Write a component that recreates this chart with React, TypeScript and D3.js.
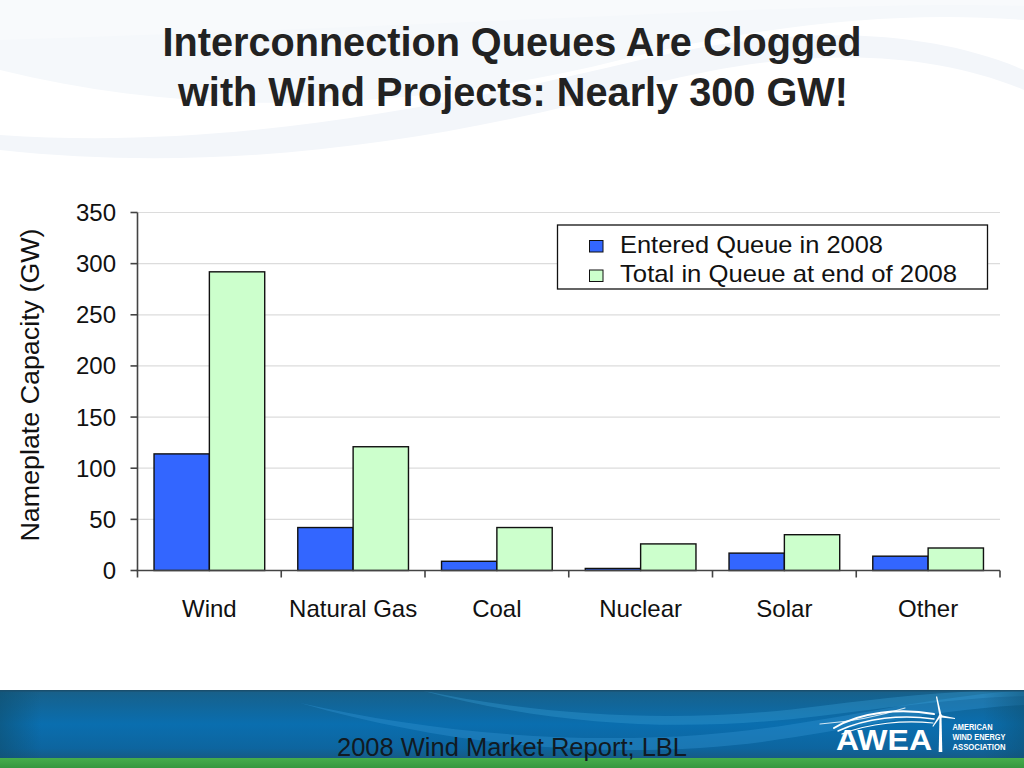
import React from "react";
import * as d3 from "d3";

const categories = ["Wind", "Natural Gas", "Coal", "Nuclear", "Solar", "Other"];
const seriesNames = ["Entered Queue in 2008", "Total in Queue at end of 2008"];
const enteredQueue = [114, 42, 9, 2, 17, 14];
const totalInQueue = [292, 121, 42, 26, 35, 22];
const yTicks = [0, 50, 100, 150, 200, 250, 300, 350];
const seriesColors = ["#3366ff", "#ccffcc"];

const W = 1024;
const H = 768;
const FONT = "'Liberation Sans', Arial, Helvetica, sans-serif";

export default function App() {
  const left = 137.5;
  const right = 1000;
  const top = 212.5;
  const bottom = 570.5;

  const x = d3
    .scaleBand<string>()
    .domain(categories)
    .range([left, right])
    .paddingInner(0.23)
    .paddingOuter(0.115);
  const xs = d3.scaleBand<string>().domain(seriesNames).range([0, x.bandwidth()]).padding(0);
  const y = d3.scaleLinear().domain([0, 350]).range([bottom, top]);
  const step = x.step();
  const series = [enteredQueue, totalInQueue];
  const legendLengths = [263, 337];

  const boundaries = d3.range(categories.length + 1).map((i) => left + i * step);

  return (
    <svg
      width={W}
      height={H}
      viewBox={`0 0 ${W} ${H}`}
      style={{ position: "absolute", left: 0, top: 0, display: "block" }}
      fontFamily={FONT}
    >
      <defs>
        <linearGradient id="footV" x1="0" y1="0" x2="0" y2="1">
          <stop offset="0" stopColor="#1b5f86" />
          <stop offset="0.08" stopColor="#15628f" />
          <stop offset="0.5" stopColor="#0a6eaf" />
          <stop offset="0.85" stopColor="#0d659f" />
          <stop offset="1" stopColor="#175a84" />
        </linearGradient>
        <linearGradient id="footH" x1="0" y1="0" x2="1" y2="0">
          <stop offset="0" stopColor="#0e4f70" stopOpacity="0.6" />
          <stop offset="0.04" stopColor="#0e4f70" stopOpacity="0" />
          <stop offset="0.96" stopColor="#0e4f70" stopOpacity="0" />
          <stop offset="1" stopColor="#0e4f70" stopOpacity="0.5" />
        </linearGradient>
        <linearGradient id="green" x1="0" y1="0" x2="0" y2="1">
          <stop offset="0" stopColor="#46ad4c" />
          <stop offset="1" stopColor="#35973f" />
        </linearGradient>
      </defs>

      <rect x={0} y={0} width={W} height={H} fill="#ffffff" />

      {/* faint background swooshes */}
      <path d="M0,70 C200,120 420,110 620,60 C760,25 900,10 1024,20 L1024,0 L0,0 Z" fill="#f5f8fb" />
      <path d="M0,135 C220,150 430,110 640,60 C800,22 930,30 1024,70 L1024,90 C930,50 800,45 650,85 C450,140 230,175 0,150 Z" fill="#f3f6fa" />
      <path d="M0,0 L1024,0 L1024,6 C850,0 600,20 0,40 Z" fill="#f8fafc" />

      {/* Title */}
      <g fill="#222222" fontWeight="bold" fontSize={40} textAnchor="middle">
        <text x={512} y={56} textLength={699} lengthAdjust="spacingAndGlyphs">
          Interconnection Queues Are Clogged
        </text>
        <text x={513} y={106} textLength={670} lengthAdjust="spacingAndGlyphs">
          with Wind Projects: Nearly 300 GW!
        </text>
      </g>

      {/* gridlines */}
      {yTicks
        .filter((t) => t > 0)
        .map((t) => (
          <line key={"g" + t} x1={left} x2={right} y1={y(t)} y2={y(t)} stroke="#dcdcdc" strokeWidth={1.2} />
        ))}

      {/* bars */}
      {categories.map((c, i) => (
        <g key={c}>
          {series.map((vals, s) => (
            <rect
              key={s}
              x={(x(c) as number) + (xs(seriesNames[s]) as number)}
              y={y(vals[i])}
              width={xs.bandwidth()}
              height={bottom - y(vals[i])}
              fill={seriesColors[s]}
              stroke="#111111"
              strokeWidth={1.4}
            />
          ))}
        </g>
      ))}

      {/* axes */}
      <line x1={left} x2={left} y1={top} y2={bottom} stroke="#444" strokeWidth={1.6} />
      <line x1={left - 1} x2={right} y1={bottom} y2={bottom} stroke="#444" strokeWidth={1.6} />
      {yTicks.map((t) => (
        <g key={"t" + t}>
          <line x1={left - 7} x2={left} y1={y(t)} y2={y(t)} stroke="#444" strokeWidth={1.6} />
          <text x={116} y={y(t) + 8.5} textAnchor="end" fontSize={24} fill="#111">
            {t}
          </text>
        </g>
      ))}
      {boundaries.map((bx, i) => (
        <line key={"b" + i} x1={bx} x2={bx} y1={bottom} y2={bottom + 7} stroke="#444" strokeWidth={1.6} />
      ))}
      {categories.map((c) => (
        <text
          key={"l" + c}
          x={(x(c) as number) + x.bandwidth() / 2}
          y={617}
          textAnchor="middle"
          fontSize={24}
          fill="#111"
        >
          {c}
        </text>
      ))}

      {/* y axis title */}
      <text
        transform={`translate(39,385) rotate(-90)`}
        textAnchor="middle"
        fontSize={26.5}
        fill="#111"
        textLength={313}
        lengthAdjust="spacingAndGlyphs"
      >
        Nameplate Capacity (GW)
      </text>

      {/* legend */}
      <rect x={557.5} y={225} width={430} height={64} fill="#ffffff" stroke="#111" strokeWidth={1.3} />
      {seriesNames.map((n, i) => (
        <g key={n}>
          <rect
            x={589.5}
            y={240.5 + i * 29.5}
            width={13.5}
            height={11.5}
            fill={seriesColors[i]}
            stroke="#111"
            strokeWidth={1}
          />
          <text
            x={620}
            y={252.5 + i * 29.5}
            fontSize={24}
            fill="#111"
            textLength={legendLengths[i]}
            lengthAdjust="spacingAndGlyphs"
          >
            {n}
          </text>
        </g>
      ))}

      {/* footer */}
      <rect x={0} y={690} width={W} height={68.5} fill="url(#footV)" />
      <path d="M300,703 C420,730 560,745 700,735 C820,726 900,700 1024,690 L1024,705 C900,712 820,740 700,748 C560,756 430,740 300,703 Z" fill="#2d8fcb" opacity={0.45} />
      <path d="M420,690 C560,720 700,722 820,706 C900,696 960,690 1024,690 L1024,696 C960,698 900,706 820,716 C690,732 560,728 420,690 Z" fill="#3aa0d8" opacity={0.35} />
      <rect x={0} y={690} width={W} height={68.5} fill="url(#footH)" />
      <rect x={0} y={690} width={W} height={1.5} fill="#1a4f6e" />
      <rect x={0} y={758} width={W} height={10} fill="url(#green)" />
      <text x={512} y={756} textAnchor="middle" fontSize={25.5} fill="#111a22" textLength={350} lengthAdjust="spacingAndGlyphs">
        2008 Wind Market Report; LBL
      </text>

      {/* AWEA logo */}
      <g fill="none" stroke="#ffffff" strokeLinecap="round">
        <path d="M834,728 C860,712 900,708 934,714" strokeWidth={2} />
        <path d="M838,731 C866,718 902,714 934,719" strokeWidth={1.5} />
        <path d="M842,734 C870,723 904,720 933,723" strokeWidth={1.2} />
        <path d="M820,724 C850,722 880,716 905,708" strokeWidth={1.2} opacity={0.8} />
      </g>
      <text x={836} y={750} fontSize={29} fontWeight="bold" fill="#ffffff" textLength={96} lengthAdjust="spacingAndGlyphs">
        AWEA
      </text>
      <g fill="#ffffff">
        <polygon points="939.5,716 941.5,716 942.3,752 938.7,752" />
        <polygon points="939.5,716 941.5,715 937,696 936,697" />
        <polygon points="940,715 941,717.5 955,719 955,718" />
        <polygon points="939,715.5 940.5,717 933,727 932.5,726" />
        <circle cx={940.5} cy={716} r={1.8} />
      </g>
      <g fill="#ffffff" fontSize={8.5} fontWeight="bold">
        <text x={952.5} y={729.5} textLength={40} lengthAdjust="spacingAndGlyphs">AMERICAN</text>
        <text x={952.5} y={739.5} textLength={53} lengthAdjust="spacingAndGlyphs">WIND ENERGY</text>
        <text x={952.5} y={749.5} textLength={53} lengthAdjust="spacingAndGlyphs">ASSOCIATION</text>
      </g>
    </svg>
  );
}
